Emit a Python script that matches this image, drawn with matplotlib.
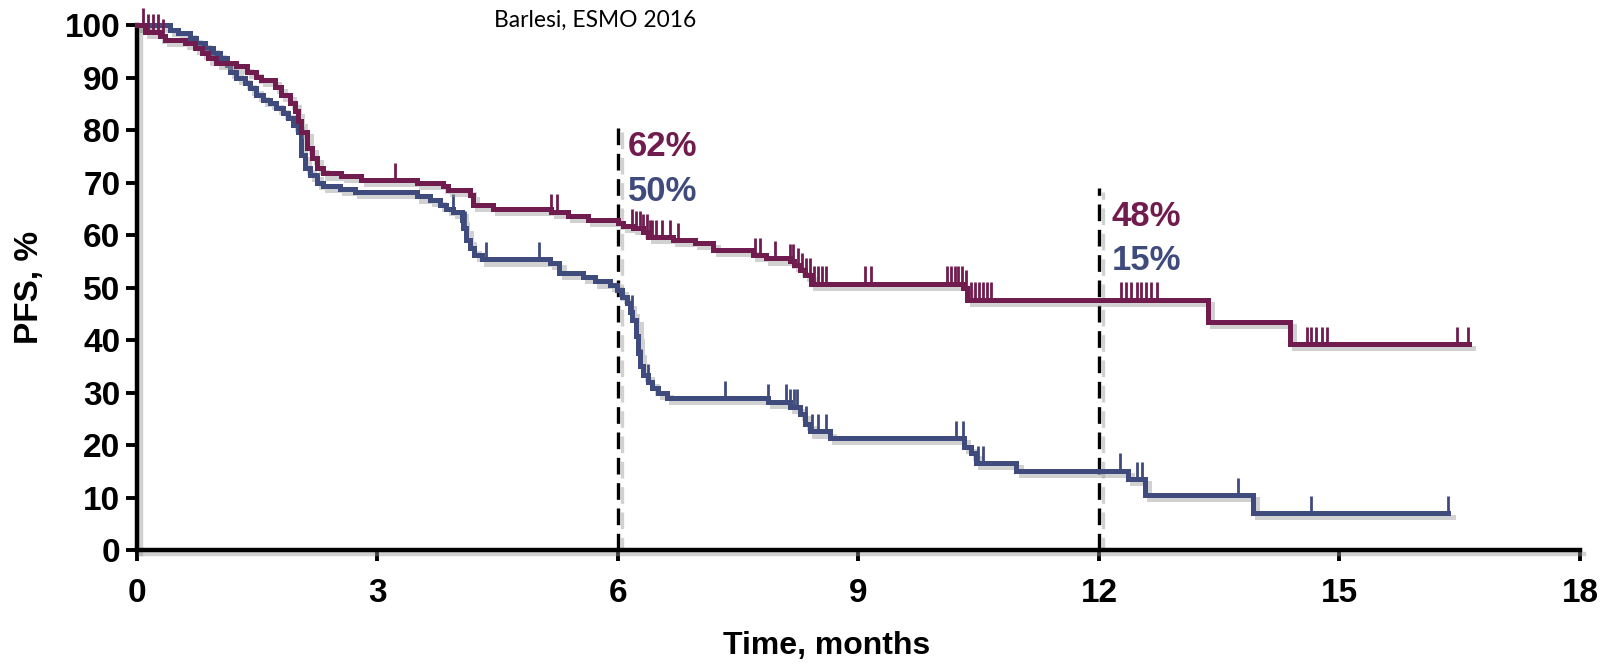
import numpy as np
import matplotlib
matplotlib.use("Agg")
import matplotlib.pyplot as plt
import matplotlib.patheffects as pe

plt.rcParams['font.family'] = ['Liberation Sans', 'DejaVu Sans']

MAROON = '#701c4f'
BLUE = '#3f4b7d'

# Kaplan-Meier steps (months, PFS %)
maroon_t = [0, 0.10, 0.29, 0.35, 0.60, 0.72, 0.81, 0.89, 0.99, 1.24, 1.37, 1.49,
            1.55, 1.72, 1.80, 1.91, 1.97, 2.01, 2.05, 2.12, 2.18, 2.24, 2.32, 2.55,
            2.80, 3.49, 3.82, 3.88, 4.15, 4.19, 4.44, 5.17, 5.38, 5.63, 6.00, 6.06,
            6.19, 6.31, 6.38, 6.69, 6.96, 7.19, 7.68, 7.85, 8.14, 8.20, 8.27, 8.33,
            8.41, 10.30, 10.35, 10.36, 13.36, 14.38, 16.62]
maroon_s = [100, 98.8, 97.9, 97.2, 96.6, 95.7, 94.7, 93.7, 92.8, 92.2, 91.2, 90.2,
            89.6, 88.3, 86.7, 85.2, 83.6, 81.7, 79.7, 76.6, 74.7, 72.8, 71.8, 71.3,
            70.5, 69.9, 69.3, 68.6, 67.7, 65.8, 65.0, 64.5, 63.7, 62.9, 62.4, 61.8,
            61.4, 60.7, 59.7, 59.1, 58.5, 57.2, 56.2, 55.6, 55.0, 54.3, 53.4, 52.4,
            50.8, 50.0, 49.0, 47.7, 43.5, 39.3, 39.3]
maroon_cens = [0.07, 0.14, 0.20, 0.26, 0.32, 2.13, 3.22, 5.17, 5.24,
               6.18, 6.23, 6.27, 6.31, 6.36, 6.40, 6.43, 6.48, 6.55, 6.65, 6.75,
               7.71, 7.77, 7.96, 8.14, 8.18, 8.24, 8.29, 8.34, 8.39, 8.44, 8.49,
               8.54, 8.59, 9.08, 9.16, 10.11, 10.16, 10.20, 10.24, 10.29, 10.34,
               10.40, 10.45, 10.50, 10.55, 10.60, 10.65, 12.28, 12.34, 12.40, 12.47,
               12.53, 12.59, 12.65, 12.72, 14.59, 14.65, 14.71, 14.78, 14.84,
               16.47, 16.60]

blue_t = [0, 0.41, 0.51, 0.66, 0.74, 0.85, 0.95, 1.03, 1.12, 1.16, 1.24, 1.35, 1.41,
          1.49, 1.57, 1.66, 1.74, 1.82, 1.89, 1.95, 2.01, 2.05, 2.09, 2.16, 2.24,
          2.32, 2.53, 2.72, 3.49, 3.65, 3.78, 3.86, 3.94, 4.05, 4.07, 4.11, 4.15,
          4.21, 4.30, 5.15, 5.27, 5.56, 5.71, 5.90, 5.99, 6.05, 6.11, 6.15, 6.18,
          6.23, 6.25, 6.27, 6.31, 6.37, 6.43, 6.50, 6.61, 7.87, 8.14, 8.27, 8.33,
          8.39, 8.64, 10.32, 10.40, 10.47, 10.97, 12.36, 12.57, 13.92, 16.36]
blue_s = [100, 99.1, 98.5, 97.6, 96.6, 95.7, 94.7, 93.7, 92.5, 91.2, 90.0, 89.0, 88.0,
          86.7, 85.8, 85.2, 84.2, 83.3, 82.3, 81.1, 79.7, 75.3, 72.8, 71.5, 69.9,
          69.4, 68.9, 68.2, 67.4, 66.7, 65.8, 65.1, 64.5, 62.9, 61.3, 59.1, 57.5,
          56.2, 55.4, 54.7, 52.8, 52.0, 51.2, 50.5, 49.6, 48.3, 47.0, 45.4, 43.9,
          40.7, 37.5, 35.0, 33.4, 32.1, 30.8, 29.9, 29.0, 28.3, 27.3, 26.0, 24.1,
          22.6, 21.3, 19.7, 18.4, 16.6, 15.1, 13.5, 10.5, 7.0, 7.0]
blue_cens = [3.94, 4.09, 4.36, 5.02, 6.17, 6.29, 6.37, 7.34, 7.87, 8.09, 8.14,
             8.19, 8.23, 8.35, 8.42, 8.49, 8.60, 10.22, 10.30, 10.49, 10.55,
             12.26, 12.48, 12.54, 13.74, 14.65, 16.36]

landmarks = [6, 12]
landmark_top = [82, 69]
labels_maroon = ['62%', '48%']
labels_blue = ['50%', '15%']

x_ticks = [0, 3, 6, 9, 12, 15, 18]
y_ticks = list(range(0, 101, 10))

shadow = [pe.SimpleLineShadow(offset=(3, -3), shadow_color='0.6', alpha=0.45),
          pe.Normal()]


def value_at(times, surv, t):
    i = np.searchsorted(times, t, side='right') - 1
    return np.asarray(surv)[np.clip(i, 0, len(surv) - 1)]


fig = plt.figure(figsize=(16.04, 6.64), dpi=100)
ax = fig.add_axes([0.0854, 0.1717, 0.8996, 0.790])

for times, surv, cens, col in [(blue_t, blue_s, blue_cens, BLUE),
                               (maroon_t, maroon_s, maroon_cens, MAROON)]:
    ax.step(times, surv, where='post', color=col, lw=3.6, clip_on=False,
            solid_joinstyle='miter', path_effects=shadow, zorder=3)
    c = np.array(cens)
    base = value_at(times, surv, c)
    ax.vlines(c, base, base + 3.3, color=col, lw=2.0, clip_on=False, zorder=3)

for x, top in zip(landmarks, landmark_top):
    ax.plot([x, x], [0, top], color='black', lw=2.4, dashes=(5, 2.6), zorder=2,
            path_effects=shadow)

ax.text(6.12, 77, labels_maroon[0], color=MAROON, fontsize=25, fontweight='bold',
        va='center', ha='left')
ax.text(6.12, 68.3, labels_blue[0], color=BLUE, fontsize=25, fontweight='bold',
        va='center', ha='left')
ax.text(12.16, 63.5, labels_maroon[1], color=MAROON, fontsize=25, fontweight='bold',
        va='center', ha='left')
ax.text(12.16, 55.1, labels_blue[1], color=BLUE, fontsize=25, fontweight='bold',
        va='center', ha='left')

ax.set_xlim(0, 18)
ax.set_ylim(0, 100)
ax.set_xticks(x_ticks)
ax.set_yticks(y_ticks)
ax.set_xticklabels([str(v) for v in x_ticks], fontsize=24, fontweight='bold')
ax.set_yticklabels([str(v) for v in y_ticks], fontsize=24, fontweight='bold')
ax.tick_params(axis='both', direction='out', length=8, width=2.8, color='black')
ax.tick_params(axis='x', pad=12)
ax.tick_params(axis='y', pad=4)

for side in ['top', 'right']:
    ax.spines[side].set_visible(False)
for side in ['left', 'bottom']:
    ax.spines[side].set_linewidth(3.2)
    ax.spines[side].set_path_effects(shadow)

ax.set_xlabel('Time, months', fontsize=23, fontweight='bold', va='center')
ax.xaxis.set_label_coords(0.478, -0.183)
ax.set_ylabel('PFS, %', fontsize=24, fontweight='bold', va='center')
ax.yaxis.set_label_coords(-0.0748, 0.5)

fig.text(0.371, 0.969, 'Barlesi, ESMO 2016', fontsize=16.4,
         family=['Lato', 'DejaVu Sans'], ha='center', va='center')

fig.savefig('out.png', dpi=100)
